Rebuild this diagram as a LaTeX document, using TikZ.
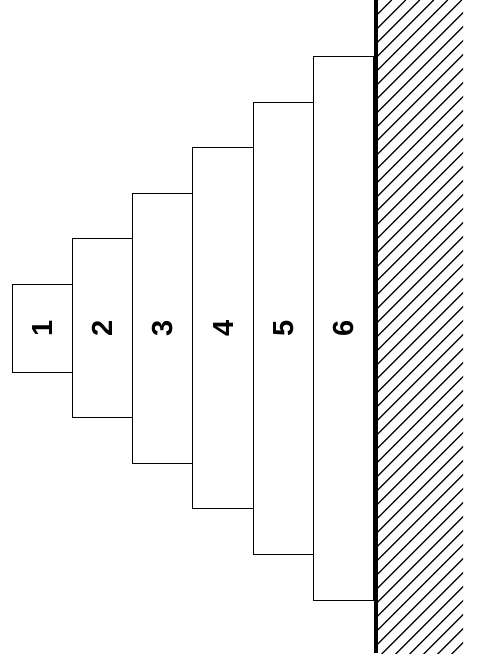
\documentclass[tikz,border=0pt]{standalone}
\usepackage{fontspec}
\setmainfont{Liberation Sans}
\begin{document}
\begin{tikzpicture}[x=1pt,y=-1pt,
  disc/.style={draw=black,line width=1pt,fill=white,rotate=90,inner sep=0pt,
    font=\fontsize{29}{29}\selectfont\bfseries},
  hatchline/.style={line width=1.2pt},
  wall/.style={line width=4.5pt}]
\useasboundingbox (0,0) rectangle (476,663);
\foreach \i in {1,...,6}{
  \pgfmathsetmacro{\cx}{12+60.33*(\i-1)+30.17}
  \pgfmathsetmacro{\cy}{328+0.1*(\i-1)}
  \pgfmathsetmacro{\hh}{88+91*(\i-1)}
  \node[disc,minimum width=\hh pt,minimum height=60.33pt] (d\i) at (\cx,\cy) {\i};
}
\begin{scope}
  \clip (378,0) rectangle (463,653);
  \foreach \c in {377.7,391.7,...,1130}{
    \draw[hatchline] (\c,0) -- (\c-700,700);
  }
\end{scope}
\coordinate (wt) at (376,0);
\coordinate (wb) at (376,653);
\draw[wall] (wt) -- (wb);
\end{tikzpicture}
\end{document}
